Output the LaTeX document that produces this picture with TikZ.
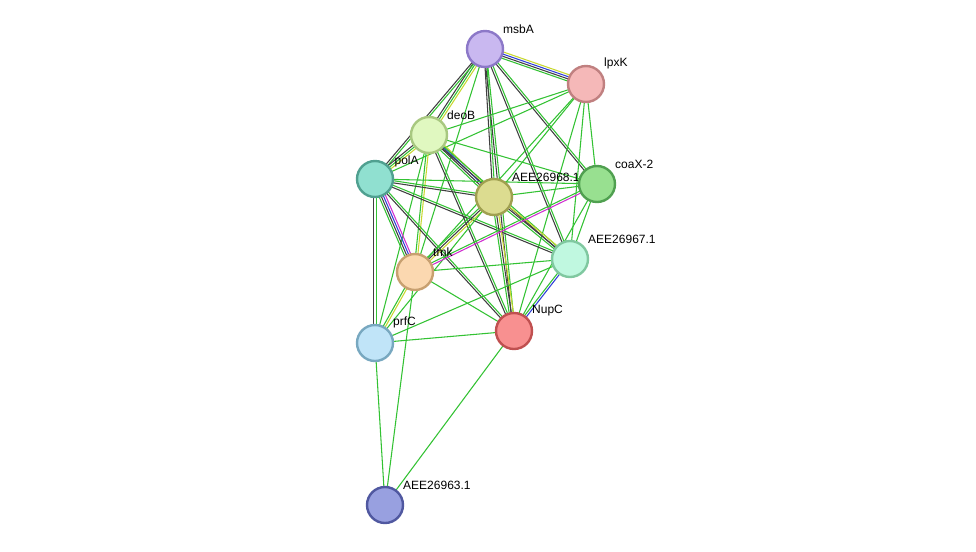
\documentclass[tikz,border=0pt]{standalone}
\usepackage{fontspec}
\setmainfont{Liberation Sans}
\usetikzlibrary{calc,backgrounds}

% edge colours
\definecolor{eg}{HTML}{33C233}
\definecolor{ek}{HTML}{404040}
\definecolor{ey}{HTML}{C8D830}
\definecolor{eb}{HTML}{3040D8}
\definecolor{em}{HTML}{D030D0}

% draw a (multi) edge: #3 is a list colour/offset
\newcommand\ppiedge[3]{%
  \foreach \c/\o in {#3}{%
    \draw[ppi,\c] ($(#1)!\o pt!90:(#2)$) -- ($(#2)!\o pt!-90:(#1)$);}}

\begin{document}
\begin{tikzpicture}[x=0.75pt,y=-0.75pt,
    ppi/.style={line width=0.8pt},
    prot/.style={circle,draw,line width=1.8pt,minimum size=27pt,inner sep=0},
    lbl/.style={font=\fontsize{9}{10}\selectfont,inner sep=1pt,yshift=3pt}]
\useasboundingbox (0,0) rectangle (976,551);

\node[prot,fill={rgb,255:red,201;green,184;blue,240},draw={rgb,255:red,140;green,120;blue,200},label={[lbl]30:msbA}] (msbA) at (485,49) {};
\node[prot,fill={rgb,255:red,245;green,184;blue,184},draw={rgb,255:red,192;green,128;blue,128},label={[lbl]30:lpxK}] (lpxK) at (586,84) {};
\node[prot,fill={rgb,255:red,224;green,248;blue,192},draw={rgb,255:red,168;green,200;blue,128},label={[lbl]30:deoB}] (deoB) at (429,135) {};
\node[prot,fill={rgb,255:red,144;green,224;blue,208},draw={rgb,255:red,80;green,160;blue,144},label={[lbl]20:polA}] (polA) at (375,179) {};
\node[prot,fill={rgb,255:red,220;green,220;blue,144},draw={rgb,255:red,160;green,160;blue,80},label={[lbl]30:AEE26968.1}] (a68) at (494,197) {};
\node[prot,fill={rgb,255:red,152;green,224;blue,144},draw={rgb,255:red,80;green,160;blue,80},label={[lbl]30:coaX-2}] (coaX) at (597,184) {};
\node[prot,fill={rgb,255:red,192;green,248;blue,224},draw={rgb,255:red,128;green,200;blue,160},label={[lbl]30:AEE26967.1}] (a67) at (570,259) {};
\node[prot,fill={rgb,255:red,251;green,216;blue,176},draw={rgb,255:red,200;green,160;blue,112},label={[lbl]30:tmk}] (tmk) at (415,272) {};
\node[prot,fill={rgb,255:red,192;green,228;blue,248},draw={rgb,255:red,120;green,168;blue,192},label={[lbl]30:prfC}] (prfC) at (375,343) {};
\node[prot,fill={rgb,255:red,248;green,144;blue,144},draw={rgb,255:red,192;green,80;blue,80},label={[lbl]30:NupC}] (NupC) at (514,331) {};
\node[prot,fill={rgb,255:red,152;green,160;blue,224},draw={rgb,255:red,80;green,88;blue,160},label={[lbl]30:AEE26963.1}] (a63) at (385,505) {};

\begin{pgfonlayer}{background}
\ppiedge{msbA}{lpxK}{ey/2.4,eb/0.8,ek/-0.8,eg/-2.4}
\ppiedge{msbA}{deoB}{ey/1.6,eg/0,ek/-1.6}
\ppiedge{msbA}{polA}{eg/0.8,ek/-0.8}
\ppiedge{msbA}{a68}{eg/0.8,ek/-0.8}
\ppiedge{msbA}{coaX}{eg/0.8,ek/-0.8}
\ppiedge{msbA}{a67}{eg/0.8,ek/-0.8}
\ppiedge{msbA}{NupC}{eg/0.8,ek/-0.8}
\ppiedge{msbA}{tmk}{eg/0}
\ppiedge{lpxK}{deoB}{eg/0}
\ppiedge{lpxK}{polA}{eg/0}
\ppiedge{lpxK}{a68}{eg/0}
\ppiedge{lpxK}{coaX}{eg/0}
\ppiedge{lpxK}{a67}{eg/0}
\ppiedge{lpxK}{NupC}{eg/0}
\ppiedge{lpxK}{tmk}{eg/0}
\ppiedge{deoB}{polA}{ey/1.6,eg/0,ek/-1.6}
\ppiedge{deoB}{a68}{ey/2.4,eb/0.8,ek/-0.8,eg/-2.4}
\ppiedge{deoB}{coaX}{eg/0}
\ppiedge{deoB}{a67}{eg/0.8,ek/-0.8}
\ppiedge{deoB}{tmk}{ey/0.8,eg/-0.8}
\ppiedge{deoB}{prfC}{eg/0}
\ppiedge{deoB}{NupC}{eg/0.8,ek/-0.8}
\ppiedge{polA}{a68}{eg/0.8,ek/-0.8}
\ppiedge{polA}{coaX}{eg/0}
\ppiedge{polA}{a67}{eg/0.8,ek/-0.8}
\ppiedge{polA}{tmk}{em/2.4,eb/0.8,ek/-0.8,eg/-2.4}
\ppiedge{polA}{prfC}{eg/0.8,ek/-0.8}
\ppiedge{polA}{NupC}{eg/0.8,ek/-0.8}
\ppiedge{a68}{coaX}{eg/0}
\ppiedge{a68}{a67}{ey/1.6,ek/0,eg/-1.6}
\ppiedge{a68}{tmk}{ey/1.6,ek/0,eg/-1.6}
\ppiedge{a68}{prfC}{eg/0}
\ppiedge{a68}{NupC}{ey/1.6,ek/0,eg/-1.6}
\ppiedge{coaX}{a67}{eg/0}
\ppiedge{coaX}{tmk}{em/0.8,eg/-0.8}
\ppiedge{coaX}{NupC}{eg/0}
\ppiedge{a67}{NupC}{eb/0.8,eg/-0.8}
\ppiedge{a67}{tmk}{eg/0}
\ppiedge{a67}{prfC}{eg/0}
\ppiedge{tmk}{prfC}{ey/0.8,eg/-0.8}
\ppiedge{tmk}{NupC}{eg/0}
\ppiedge{tmk}{a63}{eg/0}
\ppiedge{prfC}{NupC}{eg/0}
\ppiedge{prfC}{a63}{eg/0}
\ppiedge{NupC}{a63}{eg/0}
\end{pgfonlayer}
\end{tikzpicture}
\end{document}
